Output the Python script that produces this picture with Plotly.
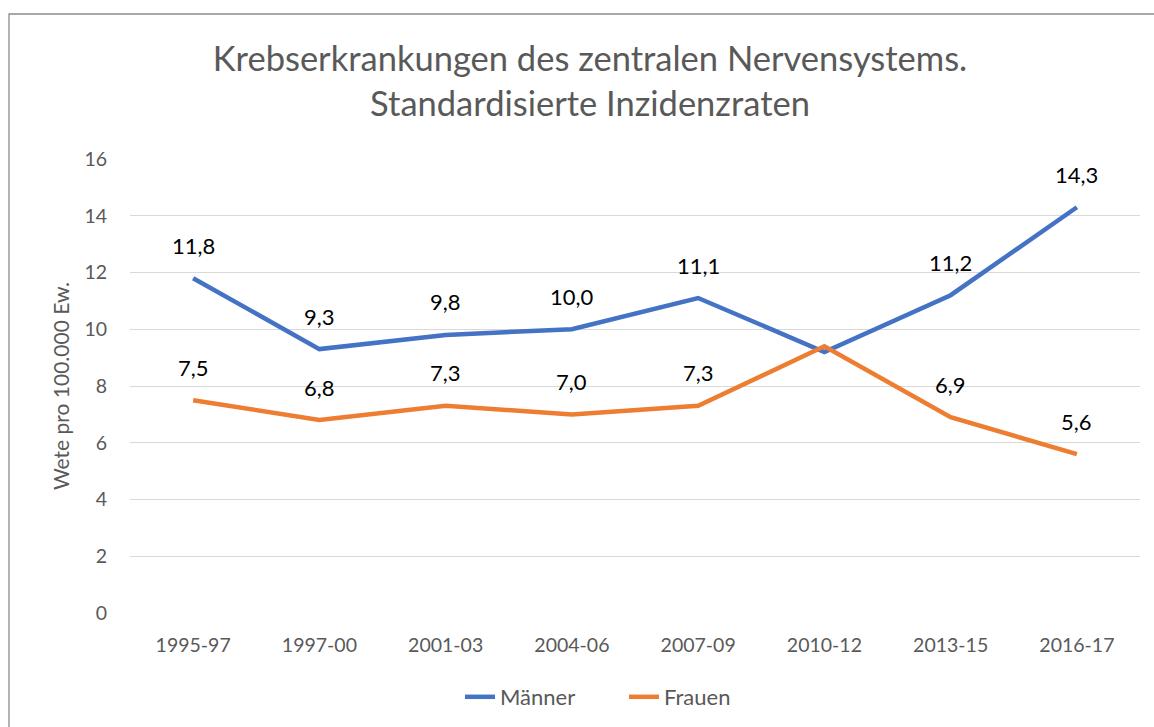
import plotly.graph_objects as go

categories = ["1995-97", "1997-00", "2001-03", "2004-06", "2007-09", "2010-12", "2013-15", "2016-17"]
maenner = [11.8, 9.3, 9.8, 10.0, 11.1, 9.2, 11.2, 14.3]
frauen = [7.5, 6.8, 7.3, 7.0, 7.3, 9.4, 6.9, 5.6]
maenner_labels = ["11,8", "9,3", "9,8", "10,0", "11,1", "", "11,2", "14,3"]
frauen_labels = ["7,5", "6,8", "7,3", "7,0", "7,3", "", "6,9", "5,6"]
y_ticks = [0, 2, 4, 6, 8, 10, 12, 14, 16]

FONT = "Lato, Carlito, Calibri, sans-serif"
BLUE = "#4472C4"
ORANGE = "#ED7D31"

fig = go.Figure()
fig.add_trace(go.Scatter(x=categories, y=maenner, mode="lines", name="Männer",
                         line=dict(color=BLUE, width=4.5)))
fig.add_trace(go.Scatter(x=categories, y=frauen, mode="lines", name="Frauen",
                         line=dict(color=ORANGE, width=4.5)))

annotations = []
for series, labels in ((maenner, maenner_labels), (frauen, frauen_labels)):
    for cat, v, t in zip(categories, series, labels):
        if t:
            annotations.append(dict(x=cat, y=v, text=t, showarrow=False, yshift=33,
                                    font=dict(family=FONT, size=22, color="#000000")))

W, H = 1154, 727
L, R, T, B = 130, 14, 159, 114
pw, ph = W - L - R, H - T - B

def px_x(p):
    return (p - L) / pw

def px_y(p):
    return (H - B - p) / ph

fig.update_layout(
    width=W, height=H,
    margin=dict(l=L, r=R, t=T, b=B, autoexpand=False),
    paper_bgcolor="white", plot_bgcolor="white",
    font=dict(family=FONT, color="#595959"),
    showlegend=True,
    title=dict(text="Krebserkrankungen des zentralen Nervensystems.<br>Standardisierte Inzidenzraten",
               x=590 / W, xanchor="center", y=1 - 71 / H, yanchor="top",
               font=dict(family=FONT, size=34.5, color="#595959")),
    xaxis=dict(type="category", range=[-0.5, 7.5], showgrid=False, showline=False, ticks="",
               tickfont=dict(family=FONT, size=19.5, color="#595959"), ticklabelstandoff=18),
    yaxis=dict(range=[0, 16], tickvals=y_ticks, showgrid=True, gridcolor="#D9D9D9",
               gridwidth=1.3, zeroline=False, showline=False, ticks="",
               tickfont=dict(family=FONT, size=19.5, color="#595959"), ticklabelstandoff=22,
               title=dict(text="Wete pro 100.000 Ew.", standoff=9,
                          font=dict(family=FONT, size=21, color="#595959"))),
    legend=dict(orientation="h", x=(460 - L) / pw, xanchor="left",
                y=px_y(697), yanchor="middle", entrywidth=119, entrywidthmode="pixels",
                font=dict(family=FONT, size=22, color="#595959")),
    annotations=annotations,
    shapes=[dict(type="rect", xref="paper", yref="paper",
                 x0=px_x(9), x1=px_x(1190), y0=px_y(14), y1=px_y(760),
                 line=dict(color="#8C8C8C", width=1.3), fillcolor="rgba(0,0,0,0)", layer="below")],
)

fig.write_html("out.html", config={"displayModeBar": False},
               post_script="document.body.style.margin='0';document.body.style.overflow='hidden';")
